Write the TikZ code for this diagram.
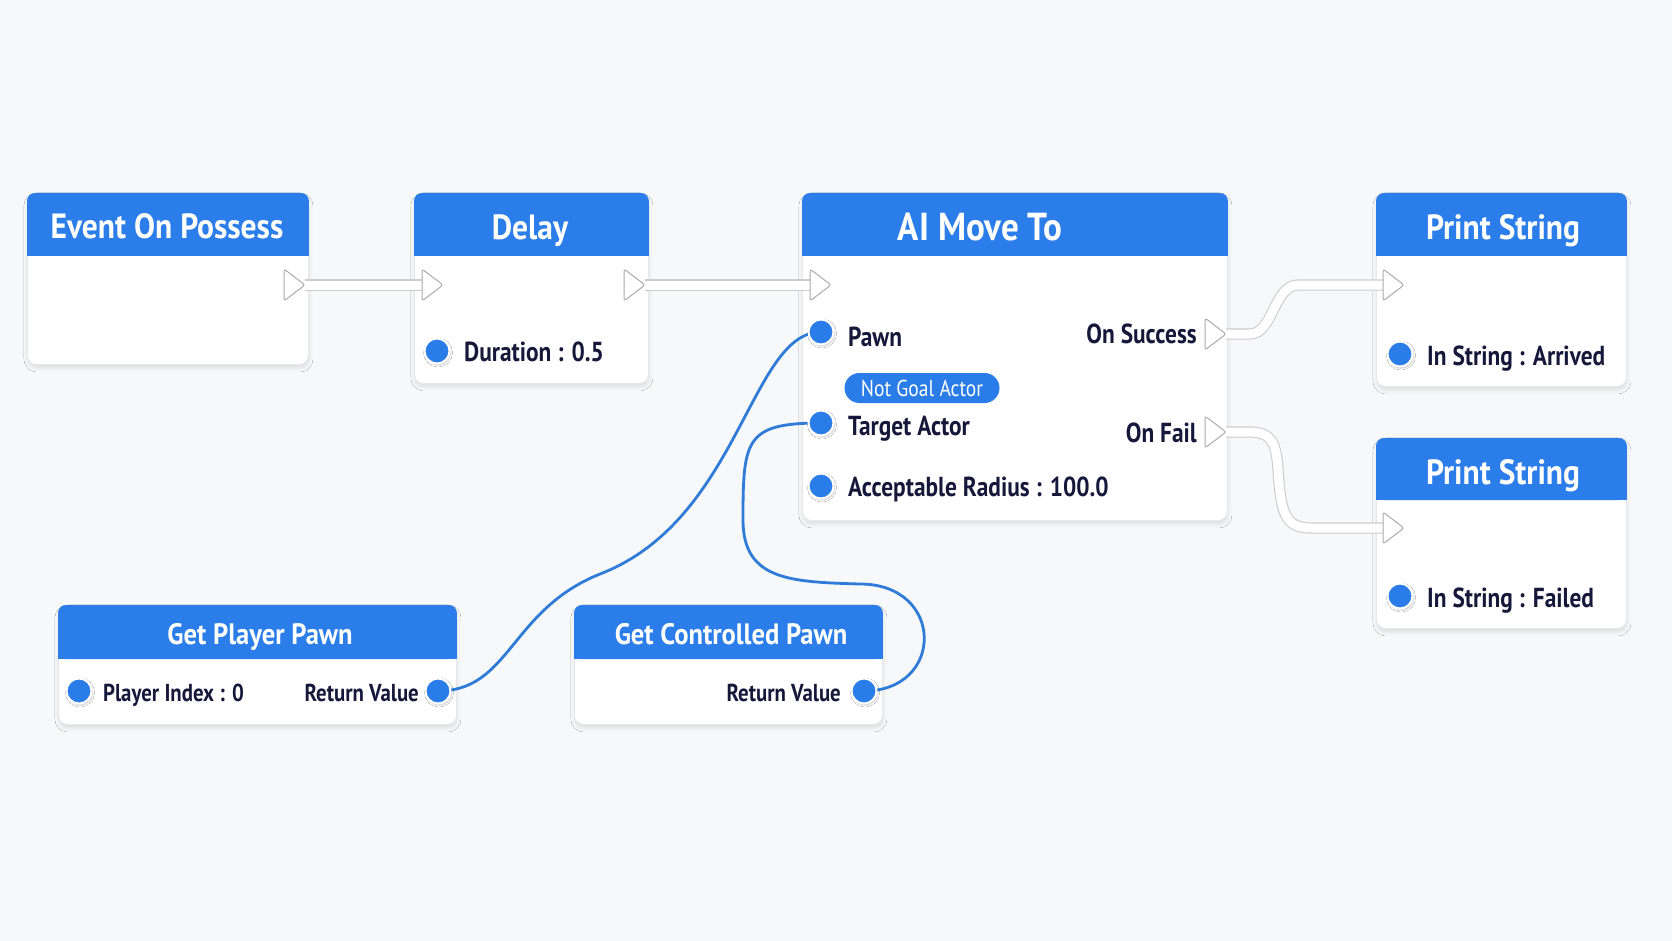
\documentclass[tikz,border=0pt]{standalone}
\usepackage{fontspec}
\newfontfamily\uifont{PT Sans}[FakeStretch=0.9]
\newfontfamily\lblfont{PT Sans}[FakeStretch=0.85]
\usetikzlibrary{shadows.blur}
\definecolor{bgc}{HTML}{F7F8FA}
\definecolor{hdrc}{HTML}{2B7DE9}
\definecolor{pinb}{HTML}{2A7CE8}
\definecolor{wireb}{HTML}{2F7BD8}
\definecolor{ink}{HTML}{16183A}
\newcommand\bpbox[6]{%
  \node[boxst, minimum width={#4-#2}, minimum height={#5-#3}, anchor=north west] (#1) at (#2,#3) {};
  \fill[hdrc, rounded corners=8pt] (#1.north west) rectangle ([yshift=-#6 pt]#1.north east);
  \fill[hdrc] ([yshift=-14pt]#1.north west) rectangle ([yshift=-#6 pt]#1.north east);
}
\newcommand\xtriout[1]{\draw[xpinst] (#1) ++(-21,-16) -- ++(21,16) -- ++(-21,16) -- cycle;}
\newcommand\xtriin[1]{\draw[xpinst] (#1) ++(0,-16) -- ++(21,16) -- ++(-21,16) -- cycle;}
\begin{document}
\begin{tikzpicture}[x=1pt,y=-1pt,
  boxst/.style={fill=white, draw=black!9, line width=0.9pt, rounded corners=9pt, inner sep=0pt,
    blur shadow={shadow xshift=0.5pt, shadow yshift=-3.5pt, shadow blur radius=4pt, shadow opacity=11}},
  ttl/.style={text=white, inner sep=0pt, anchor=base, font=\uifont\bfseries\fontsize{35}{42}\selectfont},
  ttlL/.style={ttl, font=\uifont\bfseries\fontsize{39}{46}\selectfont},
  ttlS/.style={ttl, font=\uifont\bfseries\fontsize{29.5}{35}\selectfont},
  lbl/.style={text=ink, inner sep=0pt, font=\lblfont\bfseries\fontsize{27.5}{32}\selectfont},
  lblS/.style={lbl, font=\lblfont\bfseries\fontsize{24.5}{29}\selectfont},
  pillst/.style={fill=pinb, rounded corners=15pt, minimum width=155pt, minimum height=30pt, inner sep=0pt},
  pilltxt/.style={text=white, inner sep=0pt, anchor=base, font=\lblfont\fontsize{23}{27}\selectfont},
  dpin/.style={circle, fill=pinb, draw=white, line width=2pt, minimum size=25pt, inner sep=0pt,
    blur shadow={shadow xshift=1pt, shadow yshift=-1.5pt, shadow blur radius=2pt, shadow opacity=25}},
  xpinst/.style={fill=white, draw=black!33, line width=1pt, rounded corners=2.5pt, line join=round},
  execwire/.style={draw=black!20, line width=1.1pt, double=white, double distance=9pt},
  datawire/.style={draw=wireb, line width=2.8pt, line cap=round}]
% background
\fill[bgc] (0,0) rectangle (1672,941);
\useasboundingbox (0,0) rectangle (1672,941);
% boxes
\bpbox{evt}{27}{193}{308}{364}{63}
\bpbox{dly}{414}{193}{648}{383}{63}
\bpbox{ai}{802}{193}{1227}{520}{63}
\bpbox{psa}{1376}{193}{1626}{386}{63}
\bpbox{psb}{1376}{438}{1626}{628}{62}
\bpbox{gpp}{58}{605}{456}{724}{54}
\bpbox{gcp}{574}{605}{882}{724}{54}
% titles
\node[ttl] (evtT) at (167,239) {Event On Possess};
\node[ttl] (dlyT) at (530,240) {Delay};
\node[ttlL] (aiT) at (980,241) {AI Move To};
\node[ttl] (psaT) at (1503,240) {Print String};
\node[ttl] (psbT) at (1503,484) {Print String};
\node[ttlS] (gppT) at (260,644) {Get Player Pawn};
\node[ttlS] (gcpT) at (731,644) {Get Controlled Pawn};
% exec pin coordinates
\coordinate (evtOut) at (305,285);
\coordinate (dlyIn) at (422,285);
\coordinate (dlyOut) at (645,285);
\coordinate (aiIn) at (810,285);
\coordinate (aiSucc) at (1226,334);
\coordinate (aiFail) at (1226,432);
\coordinate (psaIn) at (1383,285);
\coordinate (psbIn) at (1383,528);
% data pin coordinates
\coordinate (dlyDurC) at (437,351);
\coordinate (aiPawnC) at (821,332);
\coordinate (aiTgtC) at (821,423);
\coordinate (aiRadC) at (821,486);
\coordinate (psaStrC) at (1400,354);
\coordinate (psbStrC) at (1400,596);
\coordinate (gppIdxC) at (79,691);
\coordinate (gppRVC) at (438,691);
\coordinate (gcpRVC) at (864,691);
% exec wires
\draw[execwire] (evtOut) -- (dlyIn);
\draw[execwire] (dlyOut) -- (aiIn);
\draw[execwire] (aiSucc) -- (1250,334) .. controls (1273,334) and (1274,285) .. (1298,285) -- (psaIn);
\draw[execwire] (aiFail) -- (1248,432) .. controls (1272,432) and (1276,442) .. (1278,470)
  .. controls (1281,516) and (1286,528) .. (1312,528) -- (psbIn);
% data wires
\draw[datawire] (gppRVC) .. controls (510,691) and (510,610) .. (600,574)
  .. controls (740,520) and (750,332) .. (aiPawnC);
\draw[datawire] (gcpRVC) .. controls (945,691) and (945,584) .. (860,584)
  .. controls (790,582) and (743,580) .. (743,520) .. controls (743,440) and (745,423) .. (aiTgtC);
% exec pins
\xtriout{evtOut}
\xtriin{dlyIn}
\xtriout{dlyOut}
\xtriin{aiIn}
\xtriout{aiSucc}
\xtriout{aiFail}
\xtriin{psaIn}
\xtriin{psbIn}
% data pins
\node[dpin] (dlyDur) at (dlyDurC) {};
\node[dpin] (aiPawn) at (aiPawnC) {};
\node[dpin] (aiTgt) at (aiTgtC) {};
\node[dpin] (aiRad) at (aiRadC) {};
\node[dpin] (psaStr) at (psaStrC) {};
\node[dpin] (psbStr) at (psbStrC) {};
\node[dpin] (gppIdx) at (gppIdxC) {};
\node[dpin] (gppRV) at (gppRVC) {};
\node[dpin] (gcpRV) at (gcpRVC) {};
% labels
\node[lbl, anchor=base west] (dlyDurL) at (464,361) {Duration : 0.5};
\node[lbl, anchor=base west] (aiPawnL) at (848,346) {Pawn};
\node[pillst] (aiNGA) at (922,388) {};
\node[pilltxt] (aiNGAL) at (922,396) {Not Goal Actor};
\node[lbl, anchor=base west] (aiTgtL) at (848,435) {Target Actor};
\node[lbl, anchor=base west] (aiRadL) at (848,496) {Acceptable Radius : 100.0};
\node[lbl, anchor=base east] (aiSuccL) at (1197,343) {On Success};
\node[lbl, anchor=base east] (aiFailL) at (1197,442) {On Fail};
\node[lbl, anchor=base west] (psaStrL) at (1427,365) {In String : Arrived};
\node[lbl, anchor=base west] (psbStrL) at (1427,607) {In String : Failed};
\node[lblS, anchor=base west] (gppIdxL) at (103,701) {Player Index : 0};
\node[lblS, anchor=base east] (gppRVL) at (419,701) {Return Value};
\node[lblS, anchor=base east] (gcpRVL) at (841,701) {Return Value};
\end{tikzpicture}
\end{document}
